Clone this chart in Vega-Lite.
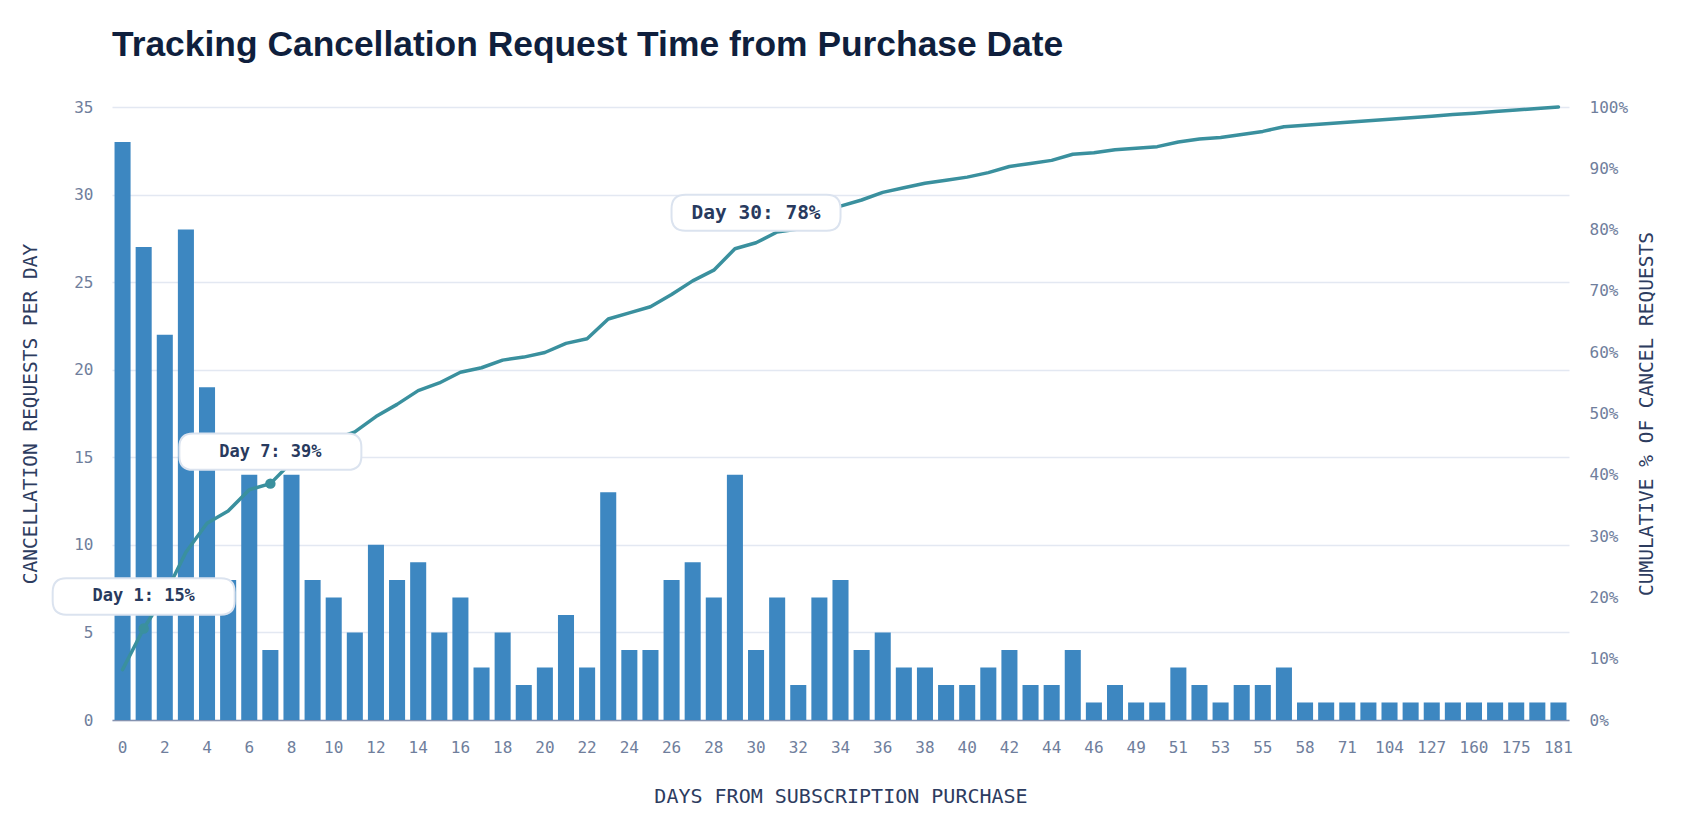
{
  "$schema": "https://vega.github.io/schema/vega-lite/v6.json",
  "width": 1457,
  "height": 613,
  "padding": {"left": 20, "top": 27, "right": 10, "bottom": 10},
  "background": "white",
  "title": {
    "text": "Tracking Cancellation Request Time from Purchase Date",
    "anchor": "start",
    "frame": "group",
    "font": "Liberation Sans",
    "fontSize": 35.4,
    "fontWeight": "bold",
    "color": "#0f1f3d",
    "offset": 36
  },
  "config": {
    "view": {"stroke": null},
    "axis": {
      "labelFont": "DejaVu Sans Mono",
      "labelFontSize": 16,
      "labelColor": "#6f7e9c",
      "titleFont": "DejaVu Sans Mono",
      "titleFontSize": 19.5,
      "titleFontWeight": "normal",
      "titleColor": "#2d3c5f",
      "ticks": false,
      "domain": false,
      "gridColor": "#e3e8f2",
      "gridWidth": 1.5
    }
  },
  "data": {
    "values": [
      {"day": 0, "requests": 33, "cumulative": 0.0821},
      {"day": 1, "requests": 27, "cumulative": 0.1493, "label": "Day 1: 15%"},
      {"day": 2, "requests": 22, "cumulative": 0.2040},
      {"day": 3, "requests": 28, "cumulative": 0.2736},
      {"day": 4, "requests": 19, "cumulative": 0.3209},
      {"day": 5, "requests": 8, "cumulative": 0.3408},
      {"day": 6, "requests": 14, "cumulative": 0.3756},
      {"day": 7, "requests": 4, "cumulative": 0.3856, "label": "Day 7: 39%"},
      {"day": 8, "requests": 14, "cumulative": 0.4204},
      {"day": 9, "requests": 8, "cumulative": 0.4403},
      {"day": 10, "requests": 7, "cumulative": 0.4577},
      {"day": 11, "requests": 5, "cumulative": 0.4701},
      {"day": 12, "requests": 10, "cumulative": 0.4950},
      {"day": 13, "requests": 8, "cumulative": 0.5149},
      {"day": 14, "requests": 9, "cumulative": 0.5373},
      {"day": 15, "requests": 5, "cumulative": 0.5498},
      {"day": 16, "requests": 7, "cumulative": 0.5672},
      {"day": 17, "requests": 3, "cumulative": 0.5746},
      {"day": 18, "requests": 5, "cumulative": 0.5871},
      {"day": 19, "requests": 2, "cumulative": 0.5920},
      {"day": 20, "requests": 3, "cumulative": 0.5995},
      {"day": 21, "requests": 6, "cumulative": 0.6144},
      {"day": 22, "requests": 3, "cumulative": 0.6219},
      {"day": 23, "requests": 13, "cumulative": 0.6542},
      {"day": 24, "requests": 4, "cumulative": 0.6642},
      {"day": 25, "requests": 4, "cumulative": 0.6741},
      {"day": 26, "requests": 8, "cumulative": 0.6940},
      {"day": 27, "requests": 9, "cumulative": 0.7164},
      {"day": 28, "requests": 7, "cumulative": 0.7338},
      {"day": 29, "requests": 14, "cumulative": 0.7687},
      {"day": 30, "requests": 4, "cumulative": 0.7786, "label": "Day 30: 78%"},
      {"day": 31, "requests": 7, "cumulative": 0.7960},
      {"day": 32, "requests": 2, "cumulative": 0.8010},
      {"day": 33, "requests": 7, "cumulative": 0.8184},
      {"day": 34, "requests": 8, "cumulative": 0.8383},
      {"day": 35, "requests": 4, "cumulative": 0.8483},
      {"day": 36, "requests": 5, "cumulative": 0.8607},
      {"day": 37, "requests": 3, "cumulative": 0.8682},
      {"day": 38, "requests": 3, "cumulative": 0.8756},
      {"day": 39, "requests": 2, "cumulative": 0.8806},
      {"day": 40, "requests": 2, "cumulative": 0.8856},
      {"day": 41, "requests": 3, "cumulative": 0.8930},
      {"day": 42, "requests": 4, "cumulative": 0.9030},
      {"day": 43, "requests": 2, "cumulative": 0.9080},
      {"day": 44, "requests": 2, "cumulative": 0.9129},
      {"day": 45, "requests": 4, "cumulative": 0.9229},
      {"day": 46, "requests": 1, "cumulative": 0.9254},
      {"day": 47, "requests": 2, "cumulative": 0.9303},
      {"day": 49, "requests": 1, "cumulative": 0.9328},
      {"day": 50, "requests": 1, "cumulative": 0.9353},
      {"day": 51, "requests": 3, "cumulative": 0.9428},
      {"day": 52, "requests": 2, "cumulative": 0.9478},
      {"day": 53, "requests": 1, "cumulative": 0.9502},
      {"day": 54, "requests": 2, "cumulative": 0.9552},
      {"day": 55, "requests": 2, "cumulative": 0.9602},
      {"day": 56, "requests": 3, "cumulative": 0.9677},
      {"day": 58, "requests": 1, "cumulative": 0.9701},
      {"day": 63, "requests": 1, "cumulative": 0.9726},
      {"day": 71, "requests": 1, "cumulative": 0.9751},
      {"day": 89, "requests": 1, "cumulative": 0.9776},
      {"day": 104, "requests": 1, "cumulative": 0.9801},
      {"day": 115, "requests": 1, "cumulative": 0.9826},
      {"day": 127, "requests": 1, "cumulative": 0.9851},
      {"day": 142, "requests": 1, "cumulative": 0.9876},
      {"day": 160, "requests": 1, "cumulative": 0.9900},
      {"day": 168, "requests": 1, "cumulative": 0.9925},
      {"day": 175, "requests": 1, "cumulative": 0.9950},
      {"day": 178, "requests": 1, "cumulative": 0.9975},
      {"day": 181, "requests": 1, "cumulative": 1.0}
    ]
  },
  "layer": [
    {
      "mark": {"type": "bar", "color": "#3d87c1"},
      "encoding": {
        "x": {
          "field": "day",
          "type": "ordinal",
          "scale": {"paddingInner": 0.24, "paddingOuter": 0.12},
          "axis": {
            "title": "DAYS FROM SUBSCRIPTION PURCHASE",
            "titleFontSize": 20,
            "labelAngle": 0,
            "values": [0, 2, 4, 6, 8, 10, 12, 14, 16, 18, 20, 22, 24, 26, 28, 30, 32, 34, 36, 38, 40, 42, 44, 46, 49, 51, 53, 55, 58, 71, 104, 127, 160, 175, 181],
            "labelPadding": 19,
            "titlePadding": 31,
            "domain": true,
            "domainColor": "#8593b0",
            "domainWidth": 1.5
          }
        },
        "y": {
          "field": "requests",
          "type": "quantitative",
          "scale": {"domain": [0, 35]},
          "axis": {
            "title": "CANCELLATION REQUESTS PER DAY",
            "values": [0, 5, 10, 15, 20, 25, 30, 35],
            "labelPadding": 19,
            "titlePadding": 33,
            "grid": true
          }
        }
      }
    },
    {
      "encoding": {
        "x": {"field": "day", "type": "ordinal"},
        "y": {
          "field": "cumulative",
          "type": "quantitative",
          "scale": {"domain": [0, 1]},
          "axis": {
            "orient": "right",
            "title": "CUMULATIVE % OF CANCEL REQUESTS",
            "format": ".0%",
            "values": [0, 0.1, 0.2, 0.3, 0.4, 0.5, 0.6, 0.7, 0.8, 0.9, 1],
            "grid": false,
            "labelPadding": 20,
            "titlePadding": 29,
            "titleAngle": 270
          }
        }
      },
      "layer": [
        {
          "mark": {"type": "line", "color": "#3a909e", "strokeWidth": 3.5, "strokeJoin": "round", "strokeCap": "round"}
        },
        {
          "transform": [{"filter": "datum.day == 1 || datum.day == 7"}],
          "mark": {"type": "point", "filled": true, "color": "#3a909e", "size": 110, "opacity": 1}
        },
        {
          "transform": [{"filter": "datum.day == 1 || datum.day == 7"}],
          "mark": {
            "type": "point",
            "shape": "M-0.85,-0.2H0.85Q1,-0.2 1,-0.05V0.05Q1,0.2 0.85,0.2H-0.85Q-1,0.2 -1,0.05V-0.05Q-1,-0.2 -0.85,-0.2Z",
            "size": 33124,
            "filled": true,
            "fill": "white",
            "stroke": "#dbe3ef",
            "strokeWidth": 2,
            "opacity": 1,
            "yOffset": -32
          }
        },
        {
          "transform": [{"filter": "datum.day == 1 || datum.day == 7"}],
          "mark": {"type": "text", "font": "DejaVu Sans Mono", "fontSize": 17, "fontWeight": "bold", "color": "#283a5e", "yOffset": -32},
          "encoding": {"text": {"field": "label"}}
        },
        {
          "transform": [{"filter": "datum.day == 30"}],
          "mark": {
            "type": "point",
            "shape": "M-0.834,-0.213H0.834Q1,-0.213 1,-0.047V0.047Q1,0.213 0.834,0.213H-0.834Q-1,0.213 -1,0.047V-0.047Q-1,-0.213 -0.834,-0.213Z",
            "size": 28561,
            "filled": true,
            "fill": "white",
            "stroke": "#dbe3ef",
            "strokeWidth": 2,
            "opacity": 1,
            "yOffset": -30
          }
        },
        {
          "transform": [{"filter": "datum.day == 30"}],
          "mark": {"type": "text", "font": "DejaVu Sans Mono", "fontSize": 19.5, "fontWeight": "bold", "color": "#283a5e", "yOffset": -30},
          "encoding": {"text": {"field": "label"}}
        }
      ]
    }
  ],
  "resolve": {"scale": {"y": "independent"}}
}
